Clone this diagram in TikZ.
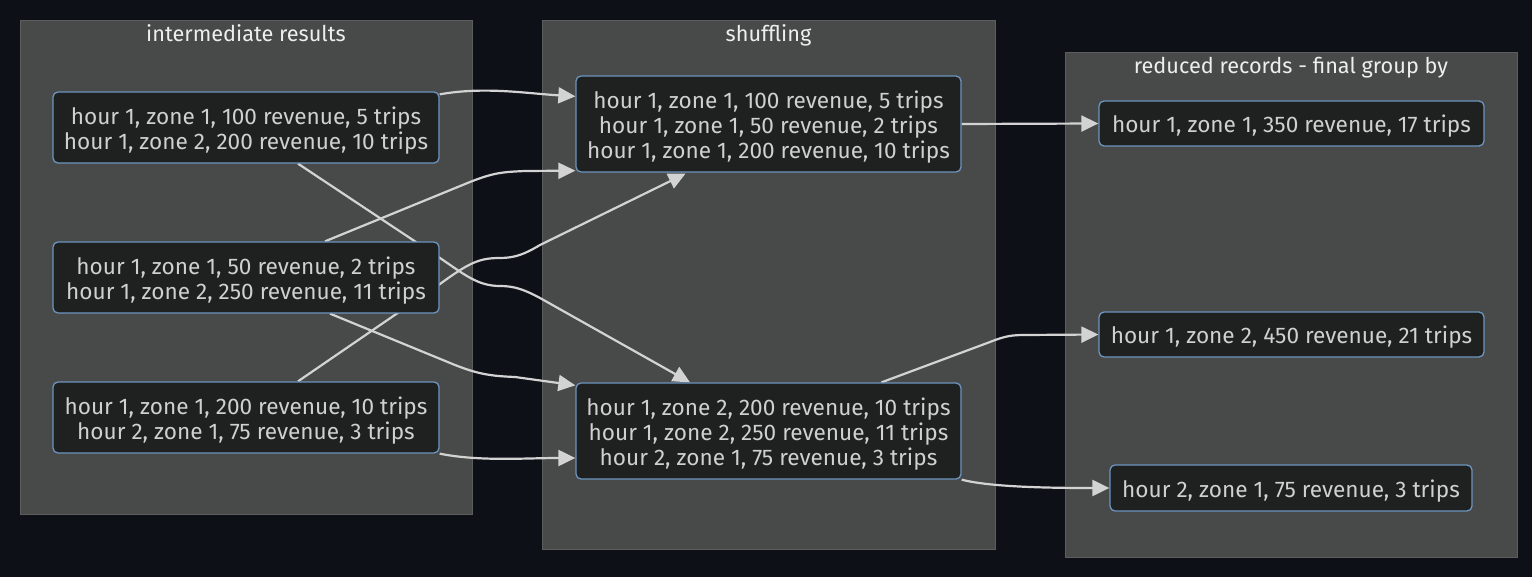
\documentclass[tikz,border=0pt]{standalone}
\usepackage{fontspec}
\setmainfont{Fira Sans}
\usetikzlibrary{arrows.meta}
\definecolor{bgc}{HTML}{0D1017}
\definecolor{clfill}{HTML}{484949}
\definecolor{cldraw}{HTML}{5C5D5D}
\definecolor{ndfill}{HTML}{1F2020}
\definecolor{nddraw}{HTML}{6D95BF}
\definecolor{txt}{HTML}{D0D0D0}
\definecolor{ttl}{HTML}{EEEEEE}
\definecolor{edg}{HTML}{D3D3D3}
\pgfdeclarelayer{bg}
\pgfdeclarelayer{edges}
\pgfsetlayers{bg,edges,main}
\begin{document}
\begin{tikzpicture}[x=1pt,y=-1pt,
  cluster/.style={draw=cldraw,fill=clfill,line width=1pt},
  ctitle/.style={text=ttl,font=\fontsize{21.7}{26}\selectfont,inner sep=0pt,anchor=base},
  rec/.style={draw=nddraw,fill=ndfill,line width=1.3pt,rounded corners=5pt,inner sep=0pt},
  rectext/.style={text=txt,align=center,font=\fontsize{22.6}{25}\selectfont,inner sep=0pt,yshift=-3pt},
  flow/.style={draw=edg,line width=2.2pt,-{Triangle[length=17pt,width=16pt]}}]
\useasboundingbox (0,0) rectangle (1532,577);
\begin{pgfonlayer}{bg}
\fill[bgc] (0,0) rectangle (1532,577);
\draw[cluster] (20,21) rectangle (472,514);
\draw[cluster] (542,21) rectangle (995,549);
\draw[cluster] (1065,53) rectangle (1517,557);
\end{pgfonlayer}
\node[ctitle] (t1) at (246,42) {intermediate results};
\node[ctitle] (t2) at (768.5,42) {shuffling};
\node[ctitle] (t3) at (1291,74) {reduced records - final group by};

\node[rec,minimum width=386pt,minimum height=71pt,label={[rectext]center:{hour 1, zone 1, 100 revenue, 5 trips\\hour 1, zone 2, 200 revenue, 10 trips}}] (a1) at (246,127.5) {};
\node[rec,minimum width=386pt,minimum height=71pt,label={[rectext]center:{hour 1, zone 1, 50 revenue, 2 trips\\hour 1, zone 2, 250 revenue, 11 trips}}] (a2) at (246,277.5) {};
\node[rec,minimum width=386pt,minimum height=71pt,label={[rectext]center:{hour 1, zone 1, 200 revenue, 10 trips\\hour 2, zone 1, 75 revenue, 3 trips}}] (a3) at (246,417.5) {};
\node[rec,minimum width=385pt,minimum height=96pt,label={[rectext]center:{hour 1, zone 1, 100 revenue, 5 trips\\hour 1, zone 1, 50 revenue, 2 trips\\hour 1, zone 1, 200 revenue, 10 trips}}] (s1) at (768.5,124) {};
\node[rec,minimum width=385pt,minimum height=96pt,label={[rectext]center:{hour 1, zone 2, 200 revenue, 10 trips\\hour 1, zone 2, 250 revenue, 11 trips\\hour 2, zone 1, 75 revenue, 3 trips}}] (s2) at (768.5,431) {};
\node[rec,minimum width=385pt,minimum height=45pt,label={[rectext]center:{hour 1, zone 1, 350 revenue, 17 trips}}] (r1) at (1291.5,123.5) {};
\node[rec,minimum width=385pt,minimum height=45pt,label={[rectext]center:{hour 1, zone 2, 450 revenue, 21 trips}}] (r2) at (1291.5,334.5) {};
\node[rec,minimum width=362pt,minimum height=46pt,label={[rectext]center:{hour 2, zone 1, 75 revenue, 3 trips}}] (r3) at (1291,488) {};

\begin{pgfonlayer}{edges}
\draw[flow] ([yshift=-3pt]a1.north east) .. controls +(45,-8) and +(-50,-3) .. ([yshift=-21pt]s1.north west);
\draw[flow] ([xshift=79pt]a2.north) -- (470,182) .. controls (495,172) and (505,172) .. (525,171) -- ([yshift=2pt]s1.south west);
\draw[flow] ([xshift=52pt]a3.north) -- (440,284) .. controls (470,262) and (480,258) .. (500,258) .. controls (515,258) and (525,254) .. (540,245) -- ([xshift=-83pt,yshift=-1pt]s1.south);
\draw[flow] ([xshift=52pt]a1.south) -- (440,258) .. controls (465,275) and (478,286) .. (500,286) .. controls (515,286) and (525,290) .. (540,298) -- ([xshift=-78.5pt]s2.north);
\draw[flow] ([xshift=84pt]a2.south) -- (455,365) .. controls (478,374) and (490,376) .. (515,377) -- ([yshift=-3pt]s2.north west);
\draw[flow] (a3.south east) .. controls +(40,8) and +(-50,0) .. ([yshift=-27pt]s2.west);
\draw[flow] (s1.east) -- (r1.west);
\draw[flow] ([xshift=113pt]s2.north) -- (990,342) .. controls (1005,336) and (1012,335) .. (1025,335) -- (r2.west);
\draw[flow] (s2.south east) .. controls +(30,8) and +(-50,0) .. (r3.west);
\end{pgfonlayer}
\end{tikzpicture}
\end{document}
